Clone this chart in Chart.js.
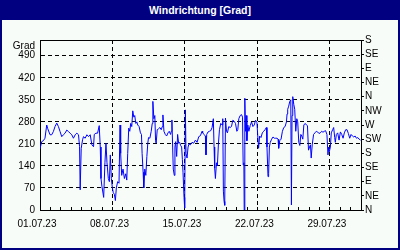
<!DOCTYPE html>
<html><head><meta charset="utf-8">
<script src="https://cdn.jsdelivr.net/npm/chart.js@4"></script>
<style>
html,body{margin:0;padding:0;background:#000080;}
#frame{position:absolute;left:0;top:0;width:400px;height:250px;background:#000080;overflow:hidden;}
#title{position:absolute;left:0;top:0;width:400px;height:20px;line-height:20px;text-align:center;color:#fff;font-weight:bold;font-size:10.5px;font-family:'Liberation Sans',Arial,sans-serif;}
#box{position:absolute;left:2px;top:20px;width:396px;height:228px;background:#F8FCF8;}
canvas{display:block;}
</style></head>
<body>
<div id="frame"><div id="title">Windrichtung [Grad]</div><div id="box"><canvas id="c" width="396" height="228"></canvas></div></div>
<script>
// days since 01.07.23 00:00
const days = [
 0.00,0.16,0.32,0.48,0.65,0.75,0.97,1.13,1.29,1.45,1.62,1.78,1.94,2.10,2.26,2.42,2.59,2.75,2.91,3.07,3.23,3.40,3.56,3.72,3.82,3.88,3.98,4.11,4.20,4.36,4.53,4.69,4.85,5.01,5.17,
 5.24,5.40,5.56,5.72,5.82,5.89,5.98,6.15,6.27,6.37,6.47,6.60,6.70,6.79,6.89,6.99,7.08,7.18,7.28,7.37,7.50,7.63,7.73,7.79,7.89,8.02,8.15,8.28,8.38,8.47,8.57,8.67,8.76,8.86,8.96,9.06,9.15,9.25,9.35,9.44,9.57,9.70,9.80,9.86,9.96,10.02,10.12,10.22,10.32,10.41,
 10.48,10.61,10.74,10.84,10.90,11.00,11.09,11.16,11.22,11.32,11.45,11.58,11.71,11.81,11.87,11.97,12.10,12.23,12.36,12.48,12.61,12.68,12.74,12.81,12.87,12.97,13.03,13.10,13.20,13.29,13.39,13.49,13.58,13.68,13.75,13.81,13.91,13.97,14.04,14.10,14.20,14.30,14.39,14.52,14.68,14.84,15.01,15.17,15.33,15.49,15.65,
 15.71,15.84,15.97,16.03,16.10,16.23,16.36,16.49,16.62,16.74,16.81,16.87,16.94,17.04,17.13,17.23,17.33,17.46,17.58,17.65,17.71,17.78,17.84,17.91,18.01,18.10,18.23,18.36,18.49,18.62,18.75,18.88,19.01,19.10,19.20,19.33,19.46,19.56,19.62,19.69,19.72,19.78,19.85,19.91,19.98,20.07,20.17,20.30,20.43,20.56,20.69,20.82,20.95,
 21.02,21.11,21.21,21.34,21.47,21.60,21.73,21.86,21.92,22.02,22.08,22.15,22.24,22.37,22.50,22.63,22.76,22.89,22.99,23.05,23.15,23.28,23.41,23.54,23.67,23.80,23.86,23.92,24.02,24.12,24.22,24.28,24.34,24.41,24.51,24.60,24.70,24.80,24.89,24.99,25.09,25.19,25.28,25.38,25.48,25.61,25.73,25.83,25.93,26.03,26.12,
 26.19,26.29,26.42,26.55,26.68,26.81,26.94,27.07,27.20,27.33,27.45,27.58,27.71,27.81,27.88,27.94,28.04,28.13,28.26,28.36,28.46,28.52,28.62,28.75,28.88,29.01,29.14,29.27,29.39,29.52,29.65,29.78,29.91,30.04,30.17,30.30,30.43,30.56,30.69,30.82,30.95
];
// wind direction in degrees
const direction = [
 194,217,220,228,270,258,239,239,249,265,276,265,249,233,239,244,254,249,244,239,228,239,244,239,201,64,196,223,233,228,239,233,239,207,201,
 240,244,244,268,200,100,75,40,150,212,150,100,90,175,100,70,55,50,30,70,90,85,270,180,110,130,100,115,95,180,260,250,275,265,315,295,300,275,280,270,265,245,240,180,120,70,130,110,170,212,
 230,228,250,275,345,290,300,220,212,255,258,262,255,265,302,250,240,235,245,250,240,250,286,200,130,110,200,217,170,240,212,215,205,200,160,120,40,6,318,180,165,200,210,207,215,212,222,215,233,236,250,
 245,240,235,175,240,248,250,252,262,290,200,133,100,150,140,210,255,275,270,290,60,27,15,292,250,245,265,262,265,285,282,275,250,255,290,300,303,295,143,150,0,355,250,300,220,270,250,268,280,265,270,285,278,
 240,196,235,230,245,250,255,262,200,106,115,200,215,225,232,228,228,228,225,196,220,225,250,262,265,280,305,320,330,345,350,16,300,360,335,320,250,290,280,215,205,240,235,225,270,275,270,268,190,200,207,
 165,207,240,245,250,248,243,245,250,247,250,252,240,175,200,185,200,245,255,262,230,215,240,245,222,248,240,228,245,255,255,243,228,240,235,232,235,228,230,225,222
];
const xTickDays = [0, 7, 14, 21, 28];
const xTickLabels = ['01.07.23', '08.07.23', '15.07.23', '22.07.23', '29.07.23'];
const yTopLabel = 'Grad';
const compass = ['N', 'NE', 'E', 'SE', 'S', 'SW', 'W', 'NW'];

const FONT = {family: "'Liberation Sans',Arial,sans-serif", size: 10};
const DASH = [4, 3];

const framePlugin = {
  id: 'frameTop',
  afterDraw(chart) {
    const a = chart.chartArea, ctx = chart.ctx;
    ctx.save();
    ctx.strokeStyle = '#000';
    ctx.lineWidth = 1;
    ctx.beginPath();
    ctx.moveTo(Math.round(a.left) + 0.5, Math.round(a.top) + 0.5);
    ctx.lineTo(Math.round(a.right) + 0.5, Math.round(a.top) + 0.5);
    ctx.stroke();
    ctx.restore();
  }
};

new Chart(document.getElementById('c'), {
  type: 'line',
  data: {
    datasets: [{
      data: days.map((d, i) => ({x: d, y: direction[i]})),
      borderColor: '#0000FF',
      borderWidth: 1,
      pointRadius: 0,
      tension: 0,
      fill: false
    }]
  },
  options: {
    responsive: false,
    animation: false,
    devicePixelRatio: 1,
    layout: {padding: {top: 20, left: 0, right: 0, bottom: 0}},
    plugins: {legend: {display: false}, title: {display: false}, tooltip: {enabled: false}},
    scales: {
      x: {
        type: 'linear', min: 0, max: 31,
        afterFit: s => { s.height = 38; },
        ticks: {
          stepSize: 1, autoSkip: false, maxRotation: 0, minRotation: 0,
          labelOffset: -3, padding: 11, color: '#000', font: FONT,
          callback: v => { const k = xTickDays.indexOf(v); return k >= 0 ? xTickLabels[k] : ''; }
        },
        grid: {
          color: c => (c.tick && xTickDays.includes(c.tick.value)) ? '#000' : 'rgba(0,0,0,0)',
          tickColor: '#000', tickLength: -3, tickBorderDash: [], lineWidth: 1
        },
        border: {display: true, color: '#000', width: 1, dash: DASH}
      },
      y: {
        position: 'left', min: 0, max: 540,
        afterFit: s => { s.width = 38; },
        ticks: {
          stepSize: 70, autoSkip: false, padding: 5, color: '#000', font: FONT,
          callback: v => v === 540 ? ['', yTopLabel] : String(v)
        },
        grid: {drawTicks: false, color: '#000', lineWidth: 1},
        border: {display: true, color: '#000', width: 1, dash: DASH}
      },
      y2: {
        position: 'right', min: 0, max: 540,
        afterFit: s => { s.width = 37; },
        ticks: {
          stepSize: 45, autoSkip: false, padding: 1, color: '#000', font: FONT,
          callback: v => compass[Math.round(v / 45) % 8]
        },
        grid: {drawOnChartArea: false, drawTicks: true, tickLength: 3, tickColor: '#000', color: '#000', tickBorderDash: []},
        border: {display: true, color: '#000', width: 1}
      }
    }
  },
  plugins: [framePlugin]
});
</script>
</body></html>
